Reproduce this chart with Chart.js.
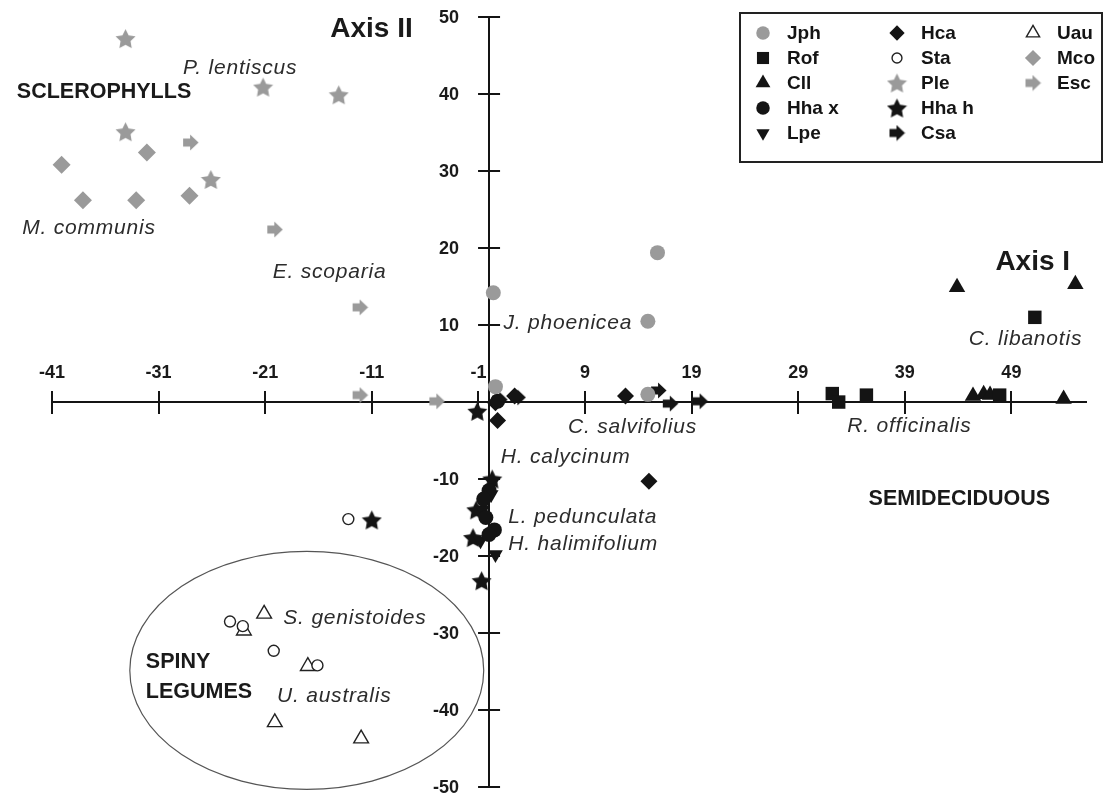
<!DOCTYPE html>
<html>
<head>
<meta charset="utf-8">
<title>Ordination - Axis I / Axis II</title>
<script src="https://cdn.jsdelivr.net/npm/chart.js@4.4.1/dist/chart.umd.min.js"></script>
<style>
    html, body { margin: 0; padding: 0; background: #ffffff; }
    #wrap { width: 1106px; height: 797px; position: relative; }
</style>
</head>
<body>
<div id="wrap"><canvas id="chart" width="1106" height="797"></canvas></div>
<script>
// Axis ranges and tick labels
const xRange = [-41, 56];
const yRange = [-50, 50];
const xTicks = [-41, -31, -21, -11, -1, 9, 19, 29, 39, 49];
const yTicks = [50, 40, 30, 20, 10, -10, -20, -30, -40, -50];

// Species scores [axis I, axis II], one list per species code
const jph = [[15.8, 19.4], [0.4, 14.2], [14.9, 10.5], [0.6, 2.0], [14.9, 1.0]];
const rof = [[32.2, 1.1], [32.8, 0.0], [35.4, 0.9], [47.9, 0.9], [51.2, 11.0]];
const cll = [[43.9, 14.9], [55.0, 15.3], [45.4, 0.8], [46.4, 1.0], [47.0, 0.9], [53.9, 0.4]];
const hhaX = [[0.8, 0.1], [0.0, -11.5], [-0.5, -12.6], [-0.3, -15.0], [0.5, -16.6], [0.0, -17.2]];
const lpe = [[0.3, -10.4], [0.2, -12.0], [-0.6, -14.0], [-0.8, -18.0], [0.6, -19.8]];
const hca = [[0.6, -0.1], [2.4, 0.8], [0.8, -2.4], [12.8, 0.8], [15.0, -10.3]];
const sta = [[-13.2, -15.2], [-24.3, -28.5], [-23.1, -29.1], [-20.2, -32.3], [-16.1, -34.2]];
const ple = [[-34.1, 47.2], [-21.2, 40.9], [-14.1, 39.9], [-34.1, 35.1], [-26.1, 28.9]];
const hhaH = [[-1.1, -1.2], [0.3, -10.0], [-1.2, -14.0], [-1.5, -17.6], [-0.7, -23.2], [-11.0, -15.3]];
const csa = [[1.0, 0.3], [2.7, 0.6], [15.9, 1.5], [17.0, -0.2], [19.8, 0.1]];
const uau = [[-21.1, -27.5], [-23.0, -29.7], [-17.0, -34.3], [-20.1, -41.6], [-12.0, -43.7]];
const mco = [[-40.1, 30.8], [-32.1, 32.4], [-38.1, 26.2], [-33.1, 26.2], [-28.1, 26.8]];
const esc = [[-28.0, 33.7], [-20.1, 22.4], [-12.1, 12.3], [-12.1, 0.9], [-4.9, 0.1]];

// Legend order (column by column)
const codes = ['Jph', 'Rof', 'Cll', 'Hha x', 'Lpe', 'Hca', 'Sta', 'Ple', 'Hha h', 'Csa', 'Uau', 'Mco', 'Esc'];
const scores = [jph, rof, cll, hhaX, lpe, hca, sta, ple, hhaH, csa, uau, mco, esc];

// Text placed on the plot, anchored at [axis I, axis II]
const notes = [
    ['P. lentiscus', -28.7, 43.4, 'i'],
    ['SCLEROPHYLLS', -44.3, 40.2, 'b'],
    ['M. communis', -43.8, 22.6, 'i'],
    ['E. scoparia', -20.3, 16.9, 'i'],
    ['J. phoenicea', 1.35, 10.2, 'i'],
    ['C. salvifolius', 7.4, -3.3, 'i'],
    ['H. calycinum', 1.1, -7.1, 'i'],
    ['L. pedunculata', 1.8, -14.9, 'i'],
    ['H. halimifolium', 1.8, -18.4, 'i'],
    ['C. libanotis', 45.0, 8.2, 'i'],
    ['R. officinalis', 33.6, -3.1, 'i'],
    ['SEMIDECIDUOUS', 35.6, -12.6, 'b'],
    ['S. genistoides', -19.3, -28.1, 'i'],
    ['SPINY', -32.2, -33.8, 'b'],
    ['LEGUMES', -32.2, -37.7, 'b'],
    ['U. australis', -19.9, -38.2, 'i'],
    ['Axis II', -14.9, 48.4, 'h'],
    ['Axis I', 47.5, 18.2, 'h']
];

// Ellipse round the spiny legumes: [xMin, xMax, yMin, yMax]
const legumeHull = [-33.7, -0.5, -50.3, -19.4];

const FONT = '"Liberation Sans", Arial, sans-serif';
const GREY = '#9a9a9a';
const INK = '#141414';

/**
 * Build a filled five-point star as an image for pointStyle
 */
function starImage(color, size) {
    const c = document.createElement('canvas');
    c.width = size;
    c.height = size;
    const g = c.getContext('2d');
    const R = size / 2;
    const r = R * 0.5;
    g.beginPath();
    for (let i = 0; i < 10; i++) {
        const a = -Math.PI / 2 + i * Math.PI / 5;
        const rad = i % 2 ? r : R;
        g.lineTo(R + rad * Math.cos(a), R + 1 + rad * Math.sin(a));
    }
    g.closePath();
    g.fillStyle = color;
    g.fill();
    return c;
}

/**
 * Build a block arrow pointing right
 */
function arrowImage(color, size) {
    const c = document.createElement('canvas');
    c.width = size;
    c.height = size;
    const g = c.getContext('2d');
    const s = size;
    g.beginPath();
    g.moveTo(1, s * 0.27);
    g.lineTo(s * 0.47, s * 0.27);
    g.lineTo(s * 0.47, 0.5);
    g.lineTo(s - 0.5, s / 2);
    g.lineTo(s * 0.47, s - 0.5);
    g.lineTo(s * 0.47, s * 0.73);
    g.lineTo(1, s * 0.73);
    g.closePath();
    g.fillStyle = color;
    g.fill();
    return c;
}

// Marker look for each code
const markers = {
    'Jph':   { pointStyle: 'circle', radius: 7.5, backgroundColor: GREY, borderColor: GREY, borderWidth: 0 },
    'Rof':   { pointStyle: 'rect', radius: 9.5, backgroundColor: INK, borderColor: INK, borderWidth: 0 },
    'Cll':   { pointStyle: 'triangle', radius: 9.5, backgroundColor: INK, borderColor: INK, borderWidth: 0 },
    'Hha x': { pointStyle: 'circle', radius: 7.5, backgroundColor: INK, borderColor: INK, borderWidth: 0 },
    'Lpe':   { pointStyle: 'triangle', radius: 8.5, rotation: 180, backgroundColor: INK, borderColor: INK, borderWidth: 0 },
    'Hca':   { pointStyle: 'rectRot', radius: 8.5, backgroundColor: INK, borderColor: INK, borderWidth: 0 },
    'Sta':   { pointStyle: 'circle', radius: 5.5, backgroundColor: '#ffffff', borderColor: '#222', borderWidth: 1.4 },
    'Ple':   { pointStyle: starImage(GREY, 21) },
    'Hha h': { pointStyle: starImage(INK, 21) },
    'Csa':   { pointStyle: arrowImage(INK, 17) },
    'Uau':   { pointStyle: 'triangle', radius: 8.5, backgroundColor: '#ffffff', borderColor: '#222', borderWidth: 1.4 },
    'Mco':   { pointStyle: 'rectRot', radius: 9, backgroundColor: GREY, borderColor: GREY, borderWidth: 0 },
    'Esc':   { pointStyle: arrowImage(GREY, 17) }
};

const datasets = codes.map((code, i) => {
    const m = markers[code];
    return {
        label: code,
        data: scores[i].map(p => ({ x: p[0], y: p[1] })),
        pointStyle: m.pointStyle,
        pointRadius: m.radius || 8,
        pointRotation: m.rotation || 0,
        pointBackgroundColor: m.backgroundColor || INK,
        pointBorderColor: m.borderColor || INK,
        pointBorderWidth: m.borderWidth || 0,
        showLine: false,
        clip: false
    };
});

const tickFont = { family: FONT, size: 18, weight: 'bold' };

// Tick marks that cross the axis lines, and the axis II labels left of its line
const crossTicks = {
    id: 'crossTicks',
    afterDraw(chart) {
        const { ctx, scales: { x, y } } = chart;
        const x0 = x.getPixelForValue(0);
        const y0 = y.getPixelForValue(0);
        ctx.save();
        ctx.strokeStyle = INK;
        ctx.lineWidth = 2;
        ctx.beginPath();
        x.ticks.forEach(t => {
            const px = Math.round(x.getPixelForValue(t.value));
            ctx.moveTo(px, y0 - 11);
            ctx.lineTo(px, y0 + 12);
        });
        y.ticks.forEach(t => {
            const py = Math.round(y.getPixelForValue(t.value));
            ctx.moveTo(x0 - 11, py);
            ctx.lineTo(x0 + 11, py);
        });
        ctx.stroke();

        ctx.font = `bold ${tickFont.size}px ${FONT}`;
        ctx.fillStyle = '#1a1a1a';
        ctx.textAlign = 'right';
        ctx.textBaseline = 'middle';
        y.ticks.forEach(t => {
            ctx.fillText(String(t.value), x0 - 30, y.getPixelForValue(t.value) + 1);
        });
        ctx.restore();
    }
};

// Group ellipse and the text notes
const notesAndHull = {
    id: 'notesAndHull',
    beforeDatasetsDraw(chart) {
        const { ctx, scales: { x, y } } = chart;
        const l = x.getPixelForValue(legumeHull[0]);
        const r = x.getPixelForValue(legumeHull[1]);
        const b = y.getPixelForValue(legumeHull[2]);
        const t = y.getPixelForValue(legumeHull[3]);
        ctx.save();
        ctx.strokeStyle = '#555';
        ctx.lineWidth = 1.2;
        ctx.beginPath();
        ctx.ellipse((l + r) / 2, (t + b) / 2, (r - l) / 2, (b - t) / 2, 0, 0, Math.PI * 2);
        ctx.stroke();

        ctx.textBaseline = 'middle';
        ctx.textAlign = 'left';
        notes.forEach(([text, vx, vy, kind]) => {
            if (kind === 'i') {
                ctx.font = `italic 21px ${FONT}`;
                ctx.letterSpacing = '0.8px';
                ctx.fillStyle = '#2c2c2c';
            } else if (kind === 'b') {
                ctx.font = `bold 21.5px ${FONT}`;
                ctx.letterSpacing = '0px';
                ctx.fillStyle = '#1a1a1a';
            } else {
                ctx.font = `bold 28px ${FONT}`;
                ctx.letterSpacing = '0px';
                ctx.fillStyle = '#1a1a1a';
            }
            ctx.fillText(text, x.getPixelForValue(vx), y.getPixelForValue(vy));
        });
        ctx.letterSpacing = '0px';
        ctx.restore();
    }
};

// Boxed legend, three columns of five rows
const boxLegend = {
    id: 'boxLegend',
    afterDraw(chart) {
        const ctx = chart.ctx;
        const box = { left: 740, top: 13, right: 1102, bottom: 162 };
        const colX = [763, 897, 1033];
        const rowY = [33, 58, 83, 108, 133];
        ctx.save();
        ctx.fillStyle = '#ffffff';
        ctx.fillRect(box.left, box.top, box.right - box.left, box.bottom - box.top);
        ctx.strokeStyle = '#222';
        ctx.lineWidth = 2;
        ctx.strokeRect(box.left, box.top, box.right - box.left, box.bottom - box.top);
        ctx.font = `bold 19px ${FONT}`;
        ctx.textBaseline = 'middle';
        ctx.textAlign = 'left';
        codes.forEach((code, i) => {
            const col = Math.floor(i / 5);
            const row = i % 5;
            const px = colX[col];
            const py = rowY[row];
            const m = markers[code];
            ctx.fillStyle = m.backgroundColor || INK;
            ctx.strokeStyle = m.borderColor || INK;
            ctx.lineWidth = m.borderWidth || 0;
            Chart.helpers.drawPoint(ctx, {
                pointStyle: m.pointStyle,
                radius: (m.radius || 8) * 0.9,
                rotation: m.rotation || 0,
                borderWidth: m.borderWidth || 0
            }, px, py);
            ctx.fillStyle = '#141414';
            ctx.fillText(code, px + 24, py + 1);
        });
        ctx.restore();
    }
};

new Chart(document.getElementById('chart'), {
    type: 'scatter',
    data: { datasets: datasets },
    options: {
        responsive: false,
        animation: false,
        layout: { padding: { left: 52, right: 20, top: 17, bottom: 5 } },
        plugins: {
            legend: { display: false },
            tooltip: { enabled: false }
        },
        scales: {
            x: {
                type: 'linear',
                min: xRange[0],
                max: xRange[1],
                position: { y: 0 },
                afterBuildTicks: (axis) => { axis.ticks = xTicks.map(v => ({ value: v })); },
                grid: { display: true, drawOnChartArea: false, drawTicks: false },
                border: { display: true, color: INK, width: 2 },
                ticks: {
                    autoSkip: false,
                    maxRotation: 0,
                    padding: -40,
                    color: '#1a1a1a',
                    font: tickFont,
                    callback: (v) => String(v)
                }
            },
            y: {
                type: 'linear',
                min: yRange[0],
                max: yRange[1],
                position: { x: 0 },
                afterBuildTicks: (axis) => { axis.ticks = yTicks.map(v => ({ value: v })); },
                grid: { display: true, drawOnChartArea: false, drawTicks: false },
                border: { display: true, color: INK, width: 2 },
                ticks: { display: false }
            }
        }
    },
    plugins: [notesAndHull, crossTicks, boxLegend]
});
</script>
</body>
</html>
